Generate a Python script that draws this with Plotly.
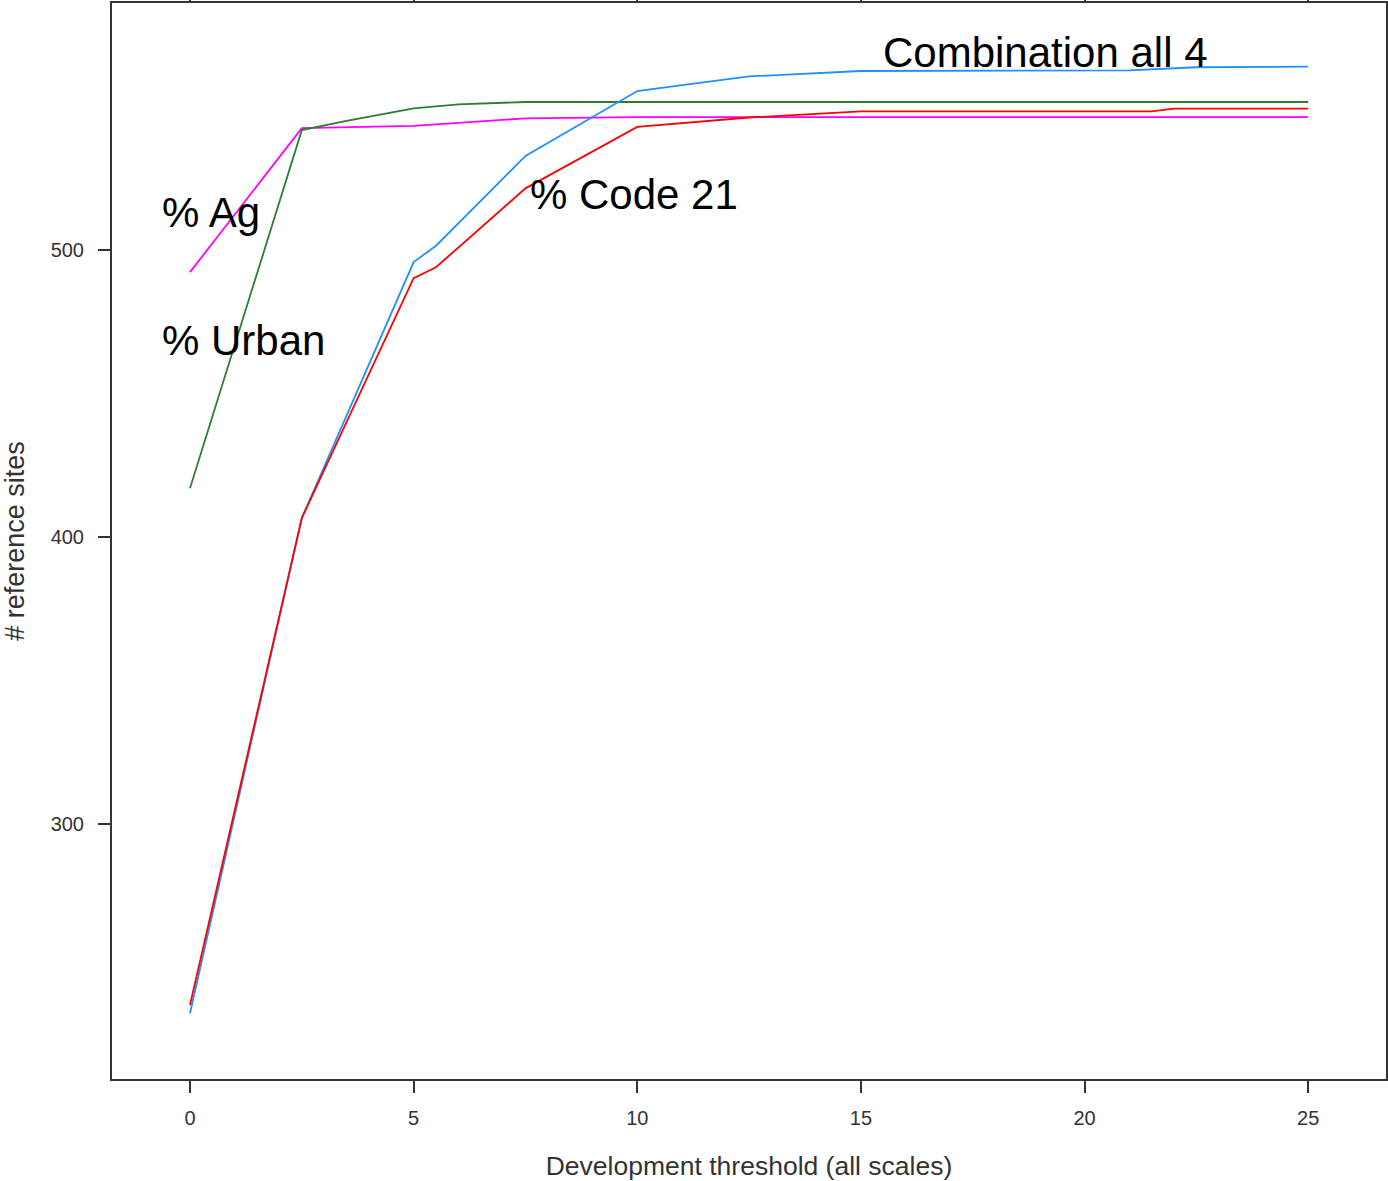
import plotly.graph_objects as go

# ---- data ----
urban_x = [0, 2.5, 3.5, 5, 6, 7.5, 25]
urban_y = [417, 541.8, 545, 549.4, 550.8, 551.6, 551.6]

ag_x = [0, 2.5, 5, 6.5, 7.5, 10, 25]
ag_y = [492.3, 542.5, 543.3, 545, 545.9, 546.3, 546.3]

combo_x = [0, 2.5, 5, 5.5, 7.5, 10, 11, 12.5, 15, 21, 22.5, 25]
combo_y = [234, 406.6, 495.8, 501.5, 532.8, 555.4, 557.5, 560.5, 562.4, 562.6, 563.7, 563.9]

code21_x = [0, 2.5, 5, 5.5, 7.5, 10, 12.5, 15, 21.5, 22, 25]
code21_y = [236.9, 406.6, 490.2, 494, 521.5, 542.9, 546.2, 548.3, 548.3, 549.3, 549.3]

x_ticks = [0, 5, 10, 15, 20, 25]
y_ticks = [300, 400, 500]

labels = [
    ("% Ag", -0.67, 513.2),
    ("% Urban", -0.67, 468.6),
    ("% Code 21", 7.56, 519.2),
    ("Combination all 4", 15.45, 569.0),
]

fig = go.Figure()
fig.add_trace(go.Scatter(x=ag_x, y=ag_y, mode="lines", line=dict(color="#FF00FF", width=1.8)))
fig.add_trace(go.Scatter(x=urban_x, y=urban_y, mode="lines", line=dict(color="#2E7D32", width=1.8)))
fig.add_trace(go.Scatter(x=combo_x, y=combo_y, mode="lines", line=dict(color="#1E90FF", width=1.8)))
fig.add_trace(go.Scatter(x=code21_x, y=code21_y, mode="lines", line=dict(color="#FF0000", width=1.8)))

for txt, lx, ly in labels:
    fig.add_annotation(x=lx, y=ly, text=txt, showarrow=False, xanchor="left", yanchor="middle",
                       font=dict(family="Liberation Sans, Arial", size=42, color="black"))

fig.update_layout(
    width=1388, height=1181,
    margin=dict(l=112, r=2, t=3, b=102),
    plot_bgcolor="white", paper_bgcolor="white",
    showlegend=False,
    font=dict(family="Liberation Sans, Arial", color="#333"),
)
fig.update_xaxes(
    range=[-1.744, 26.74], tickvals=x_ticks, ticks="outside", ticklen=12, tickwidth=2,
    tickcolor="#333", showline=True, linecolor="#333", linewidth=2, mirror="ticks",
    showgrid=False, zeroline=False, tickfont=dict(size=20, color="#333"),
    automargin=False, ticklabelstandoff=8,
    title=dict(text="Development threshold (all scales)", font=dict(size=26.5, color="#333"), standoff=31),
)
fig.update_yaxes(
    range=[211.1, 586.1], tickvals=y_ticks, ticks="outside", ticklen=12, tickwidth=2,
    tickcolor="#333", showline=True, linecolor="#333", linewidth=2, mirror="ticks",
    showgrid=False, zeroline=False, tickfont=dict(size=20, color="#333"),
    automargin=False, ticklabelstandoff=10,
    title=dict(text="# reference sites", font=dict(size=27, color="#333"), standoff=29),
)

fig.write_html("out.html", config={"displayModeBar": False},
               post_script="document.body.style.margin='0';")
